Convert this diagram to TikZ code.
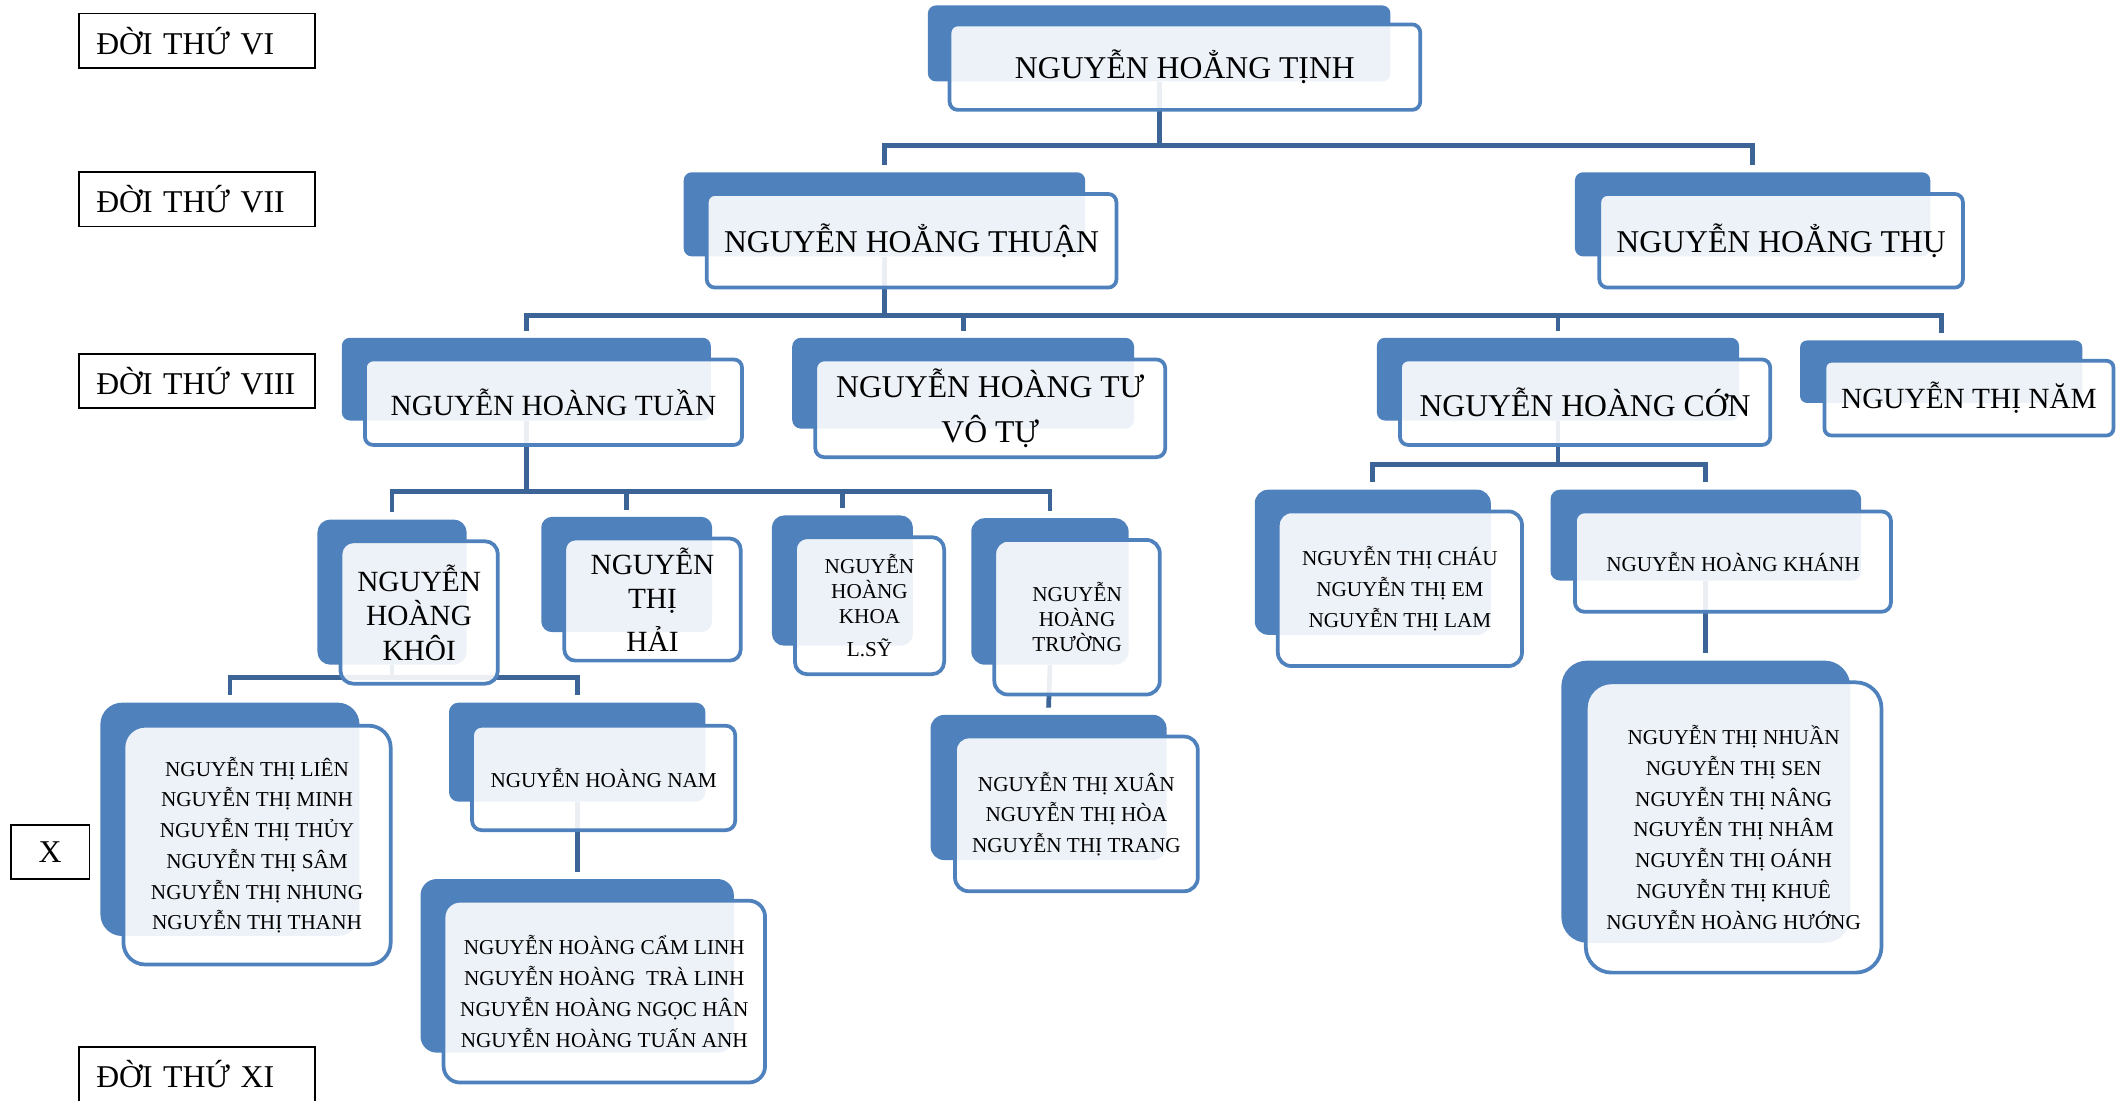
\documentclass[tikz,border=0pt]{standalone}
\usepackage{fontspec}
\setmainfont{Liberation Serif}
\usetikzlibrary{backgrounds}
\definecolor{famblue}{HTML}{4F81BD}
\definecolor{linkblue}{HTML}{3C6496}

\begin{document}
\begin{tikzpicture}[
    x=0.2mm, y=-0.2mm,
    sz/.style 2 args={minimum width=#1*0.2mm, minimum height=#2*0.2mm},
    back/.style={fill=famblue, inner sep=0pt},
    front/.style={draw=famblue, line width=0.55mm, fill=white, fill opacity=0.9, text opacity=1, inner sep=0pt, align=center},
    lvlbox/.style={draw, line width=0.25mm, inner sep=0pt, font=\fontsize{13.3}{16}\selectfont},
    level/.style={lvlbox, sz={174}{40}, inner xsep=2.6mm, text width=29.6mm, align=left},
    link/.style={draw=linkblue, line width=0.7mm},
    bigname/.style={font=\fontsize{13.3}{18.8}\selectfont},
    midname/.style={font=\fontsize{12.3}{14.5}\selectfont},
    smallname/.style={font=\fontsize{8.9}{12.9}\selectfont},
    tinyname/.style={font=\fontsize{8.9}{10.5}\selectfont}
]
\useasboundingbox (0,0) rectangle (1568,811);

    % Generations
    \node[level] (g6) at (145,30) {ĐỜI THỨ VI};
    \node[level] (g7) at (145,147) {ĐỜI THỨ VII};
    \node[level] (g8) at (145,281) {ĐỜI THỨ VIII};
    \node[lvlbox, sz={58}{40}] (g10) at (37,628) {X};
    \node[level] (g11) at (145,792) {ĐỜI THỨ XI};

    % Generation VI - VII
    \node[back, sz={341}{56}, rounded corners=1.2mm] (tinhB) at (854.5,32) {};
    \node[front, sz={347}{63}, rounded corners=1.2mm, bigname] (tinh) at (873.5,49.5) {NGUYỄN HOẲNG TỊNH};
    \node[back, sz={296}{62}, rounded corners=1.2mm] (thuanB) at (652,158) {};
    \node[front, sz={302}{69}, rounded corners=1.2mm, bigname] (thuan) at (672,177.5) {NGUYỄN HOẲNG THUẬN};
    \node[back, sz={262}{62}, rounded corners=1.2mm] (thuB) at (1292,158) {};
    \node[front, sz={268}{69}, rounded corners=1.2mm, bigname] (thu) at (1313,177.5) {NGUYỄN HOẲNG THỤ};

    % Generation VIII
    \node[back, sz={272}{61}, rounded corners=1.2mm] (tuanB) at (388,279.5) {};
    \node[front, sz={278}{63}, rounded corners=1.2mm, midname] (tuan) at (408,296.5) {NGUYỄN HOÀNG TUẦN};
    \node[back, sz={252}{67}, rounded corners=1.3mm] (tuB) at (710,282.5) {};
    \node[front, sz={258}{72}, rounded corners=1.3mm, bigname] (tu) at (730,301) {NGUYỄN HOÀNG TƯ\\VÔ TỰ};
    \node[back, sz={267}{61}, rounded corners=1.2mm] (conB) at (1148.5,279.5) {};
    \node[front, sz={273}{63}, rounded corners=1.2mm, bigname] (con) at (1168.5,296.5) {NGUYỄN HOÀNG CỚN};
    \node[back, sz={208}{46}, rounded corners=1mm] (namB) at (1431,274) {};
    \node[front, sz={213}{55}, rounded corners=1mm, midname] (nam) at (1451.5,293.5) {NGUYỄN THỊ NĂM};

    % Generation IX
    \node[back, sz={110}{107}, rounded corners=1.9mm] (khoiB) at (289,436.5) {};
    \node[front, sz={116}{105}, rounded corners=1.9mm, midname] (khoi) at (309,451.5) {NGUYỄN\\HOÀNG\\KHÔI};
    \node[back, sz={126}{85}, rounded corners=1.6mm] (haiB) at (462,423.5) {};
    \node[front, sz={130}{90}, rounded corners=1.6mm, midname] (hai) at (481,442) {NGUYỄN\\THỊ\\[1.2mm]HẢI};
    \node[back, sz={104}{96}, rounded corners=1.8mm] (khoaB) at (621,428) {};
    \node[front, sz={110}{101}, rounded corners=1.8mm, tinyname] (khoa) at (641,446.5) {NGUYỄN\\HOÀNG\\KHOA\\[1.2mm]L.SỸ};
    \node[back, sz={116}{108}, rounded corners=2mm] (truongB) at (774,436) {};
    \node[front, sz={122}{114}, rounded corners=2mm, tinyname] (truong) at (794,455) {NGUYỄN\\HOÀNG\\TRƯỜNG};
    \node[back, sz={174}{107}, rounded corners=2mm] (chauB) at (1012,414.5) {};
    \node[front, sz={180}{114}, rounded corners=2mm, smallname] (chau) at (1032,434) {NGUYỄN THỊ CHÁU\\NGUYỄN THỊ EM\\NGUYỄN THỊ LAM};
    \node[back, sz={229}{67}, rounded corners=1.4mm] (khanhB) at (1257.5,394.5) {};
    \node[front, sz={233}{74}, rounded corners=1.4mm, smallname] (khanh) at (1277.5,414) {NGUYỄN HOÀNG KHÁNH};

    % Generation X
    \node[back, sz={191}{172}, rounded corners=3.2mm] (lienB) at (169.5,604) {};
    \node[front, sz={197}{176}, rounded corners=3.2mm, smallname] (lien) at (189.5,623) {NGUYỄN THỊ LIÊN\\NGUYỄN THỊ MINH\\NGUYỄN THỊ THỦY\\NGUYỄN THỊ SÂM\\NGUYỄN THỊ NHUNG\\NGUYỄN THỊ THANH};
    \node[back, sz={189}{73}, rounded corners=1.4mm] (namhB) at (425.5,554.5) {};
    \node[front, sz={194}{77}, rounded corners=1.4mm, smallname] (namh) at (445,573.5) {NGUYỄN HOÀNG NAM};
    \node[back, sz={174}{107}, rounded corners=2mm] (xuanB) at (773,580.5) {};
    \node[front, sz={179}{114}, rounded corners=2mm, smallname] (xuan) at (793.5,600) {NGUYỄN THỊ XUÂN\\NGUYỄN THỊ HÒA\\NGUYỄN THỊ TRANG};
    \node[back, sz={213}{208}, rounded corners=3.8mm] (nhuanB) at (1257.5,591) {};
    \node[front, sz={218}{214}, rounded corners=3.8mm, smallname] (nhuan) at (1278,610) {NGUYỄN THỊ NHUẦN\\NGUYỄN THỊ SEN\\NGUYỄN THỊ NÂNG\\NGUYỄN THỊ NHÂM\\NGUYỄN THỊ OÁNH\\NGUYỄN THỊ KHUÊ\\NGUYỄN HOÀNG HƯỚNG};

    % Generation XI
    \node[back, sz={231}{128}, rounded corners=2.4mm] (camB) at (425.5,712) {};
    \node[front, sz={237}{134}, rounded corners=2.4mm, smallname] (cam) at (445.5,731) {NGUYỄN HOÀNG CẨM LINH\\NGUYỄN HOÀNG~ TRÀ LINH\\NGUYỄN HOÀNG NGỌC HÂN\\NGUYỄN HOÀNG TUẤN ANH};

    % Connectors
    \begin{pgfonlayer}{background}
    \draw[link] (tinhB.south) -- ++(0,47) coordinate (tinhbar);
    \foreach \c in {thuanB, thuB}
        \draw[link] (tinhbar) -| ([yshift=1mm]\c.north);
    \draw[link] (thuanB.south) -- ++(0,43) coordinate (thuanbar);
    \foreach \c in {tuanB, tuB, conB, namB}
        \draw[link] (thuanbar) -| ([yshift=1mm]\c.north);
    \draw[link] (tuanB.south) -- ++(0,52) coordinate (tuanbar);
    \foreach \c in {khoiB, haiB, khoaB, truongB}
        \draw[link] (tuanbar) -| ([yshift=1mm]\c.north);
    \draw[link] (conB.south) -- ++(0,32) coordinate (conbar);
    \foreach \c in {chauB, khanhB}
        \draw[link] (conbar) -| ([yshift=1mm]\c.north);
    \draw[link] (khoiB.south) -- ++(0,9) coordinate (khoibar);
    \foreach \c in {lienB, namhB}
        \draw[link] (khoibar) -| ([yshift=1mm]\c.north);
    \draw[link] (namhB.south) -- ([yshift=1mm]camB.north);
    \draw[link] (truongB.south) -- ([yshift=1mm]xuanB.north);
    \draw[link] (khanhB.south) -- ([yshift=1mm]nhuanB.north);
    \end{pgfonlayer}

\end{tikzpicture}
\end{document}
